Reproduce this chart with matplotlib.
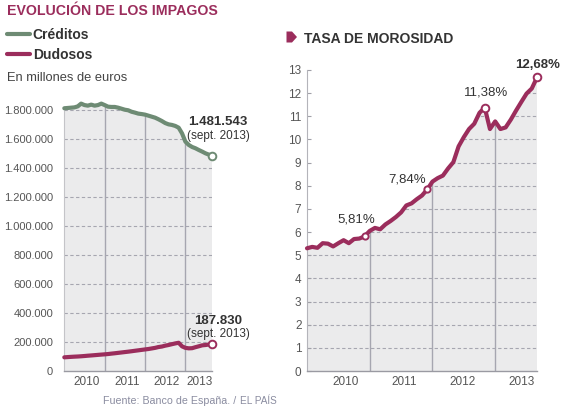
import matplotlib
matplotlib.use('Agg')
import matplotlib.pyplot as plt
from matplotlib.patches import Polygon
import numpy as np

# Datos mensuales, enero 2010 - septiembre 2013
creditos = [1812000, 1814000, 1816000, 1818000, 1825000, 1844000, 1834000, 1830000, 1837000, 1830000,
            1834000, 1844000, 1834000, 1823000, 1821000, 1821000, 1816000, 1809000, 1802000, 1798000,
            1788000, 1782000, 1775000, 1772000, 1768000, 1761000, 1754000, 1747000, 1736000, 1724000,
            1710000, 1701000, 1697000, 1690000, 1678000, 1639000, 1582000, 1559000, 1545000, 1536000,
            1524000, 1513000, 1501000, 1492000, 1481543]

dudosos = [94300, 95900, 97500, 98900, 100000, 101600, 103400, 105500, 107300, 109200,
           111200, 113100, 114900, 117000, 119800, 122300, 125100, 127800, 130600, 133300,
           136300, 139500, 142500, 145700, 148700, 151700, 155600, 159600, 165300, 168700,
           174700, 179300, 185000, 190300, 194700, 170100, 159700, 156300, 157400, 164300,
           170500, 177000, 179300, 182700, 187830]

morosidad = [5.30, 5.36, 5.32, 5.52, 5.50, 5.38, 5.52, 5.65, 5.52, 5.70,
             5.72, 5.81, 6.05, 6.18, 6.12, 6.33, 6.48, 6.65, 6.85, 7.15,
             7.24, 7.42, 7.58, 7.84, 8.18, 8.33, 8.44, 8.75, 9.02, 9.70,
             10.10, 10.45, 10.68, 11.15, 11.38, 10.45, 10.78, 10.45, 10.52, 10.86,
             11.25, 11.62, 11.98, 12.20, 12.68]

anios = ['2010', '2011', '2012', '2013']
ticks_izq = [0, 200000, 400000, 600000, 800000, 1000000, 1200000, 1400000, 1600000, 1800000]
etiq_izq = ['0', '200.000', '400.000', '600.000', '800.000', '1.000.000',
            '1.200.000', '1.400.000', '1.600.000', '1.800.000']
ticks_der = list(range(14))
etiq_der = [str(t) for t in ticks_der]

# puntos destacados en la tasa de morosidad (indice del mes, texto)
destacados = [(11, '5,81%'), (23, '7,84%'), (34, '11,38%'), (44, '12,68%')]

GRANATE = '#9b2d5c'
VERDE = '#6e8b74'
GRIS_ZONA = '#ebebec'
GRIS_LINEA = '#a6a6b0'
TEXTO = '#333333'

plt.rcParams['font.family'] = ['Liberation Sans', 'DejaVu Sans']

W, H = 566, 411


def px(x, y):
    return (x / W, 1 - y / H)


fig = plt.figure(figsize=(W / 100, H / 100), dpi=100)
fig.patch.set_facecolor('white')

x = np.arange(len(creditos))


def zona_gris(ax, y, ticks):
    # area bajo la curva, con la rejilla recortada a esa area
    verts = [(x[0], 0)] + list(zip(x, y)) + [(x[-1], 0)]
    zona = Polygon(verts, closed=True, facecolor=GRIS_ZONA, edgecolor='none', zorder=0)
    ax.add_patch(zona)
    for t in ticks[1:]:
        l = ax.axhline(t, color=GRIS_LINEA, lw=0.8, dashes=(3, 2.2), zorder=1)
        l.set_clip_path(zona)
    for v in [12, 24, 36]:
        l = ax.axvline(v, color=GRIS_LINEA, lw=1, zorder=1)
        l.set_clip_path(zona)


# ---------- Evolución de los impagos ----------
ax1 = fig.add_axes([64.3 / W, 40 / H, 148 / W, 275.5 / H])
zona_gris(ax1, creditos, ticks_izq)
l1, = ax1.plot(x, creditos, color=VERDE, lw=3, solid_capstyle='round', solid_joinstyle='round',
               zorder=3, clip_on=False, label='Créditos')
l2, = ax1.plot(x, dudosos, color=GRANATE, lw=3, solid_capstyle='round', solid_joinstyle='round',
               zorder=3, clip_on=False, label='Dudosos')
ax1.plot(x[-1], creditos[-1], 'o', mfc='white', mec=VERDE, ms=5.5, mew=1.4, zorder=4, clip_on=False)
ax1.plot(x[-1], dudosos[-1], 'o', mfc='white', mec=GRANATE, ms=5.5, mew=1.4, zorder=4, clip_on=False)

ax1.annotate('1.481.543', (x[-1], creditos[-1]), xytext=(4.3, 24.5), textcoords='offset points',
             ha='center', va='center', fontsize=9.5, fontweight='bold', color=TEXTO)
ax1.annotate('(sept. 2013)', (x[-1], creditos[-1]), xytext=(4.3, 14.8), textcoords='offset points',
             ha='center', va='center', fontsize=8.5, color=TEXTO)
ax1.annotate('187.830', (x[-1], dudosos[-1]), xytext=(4.3, 16.2), textcoords='offset points',
             ha='center', va='center', fontsize=9.5, fontweight='bold', color=TEXTO)
ax1.annotate('(sept. 2013)', (x[-1], dudosos[-1]), xytext=(4.3, 7), textcoords='offset points',
             ha='center', va='center', fontsize=8.5, color=TEXTO)

ax1.set_xlim(0, 44)
ax1.set_ylim(0, 1900000)
ax1.set_yticks(ticks_izq, etiq_izq)
ax1.set_xticks([6.75, 18.6, 30.4, 40.1], anios)
ax1.tick_params(axis='y', length=0, pad=8, labelsize=8, labelcolor='#555555')
ax1.tick_params(axis='x', length=0, pad=3.5, labelsize=8.5, labelcolor='#555555')
for s in ['top', 'right']:
    ax1.spines[s].set_visible(False)
ax1.spines['left'].set_color('#c4c4c8')
ax1.spines['left'].set_linewidth(0.8)
ax1.spines['left'].set_bounds(0, creditos[0])
ax1.spines['bottom'].set_color('#9a9aa2')
ax1.spines['bottom'].set_linewidth(1)
ax1.patch.set_alpha(0)

# ---------- Tasa de morosidad ----------
ax2 = fig.add_axes([307 / W, 40 / H, 230 / W, 301 / H])
zona_gris(ax2, morosidad, ticks_der)
ax2.plot(x, morosidad, color=GRANATE, lw=3, solid_capstyle='round', solid_joinstyle='round',
         zorder=3, clip_on=False)

desplaz = {11: (-5.8, 12.5), 23: (-14.4, 7), 34: (0.7, 10.5), 44: (0.7, 9)}
for i, txt in destacados:
    grande = i in (34, 44)
    ax2.plot(x[i], morosidad[i], 'o', mfc='white', mec=GRANATE, ms=5.5 if grande else 4.5,
             mew=1.4, zorder=4, clip_on=False)
    ax2.annotate(txt, (x[i], morosidad[i]), xytext=desplaz[i], textcoords='offset points',
                 ha='center', va='center', fontsize=9.5, color=TEXTO,
                 fontweight='bold' if i == 44 else 'normal')

ax2.set_xlim(0, 44)
ax2.set_ylim(0, 13)
ax2.set_yticks(ticks_der, etiq_der)
ax2.set_xticks([7.3, 18.5, 29.8, 41.1], anios)
ax2.tick_params(axis='y', direction='in', length=3, width=0.8, color='#a0a0a8', pad=4,
                labelsize=8.5, labelcolor='#555555')
ax2.tick_params(axis='x', length=0, pad=3.5, labelsize=8.5, labelcolor='#555555')
for s in ['top', 'right']:
    ax2.spines[s].set_visible(False)
ax2.spines['left'].set_color('#b4b4ba')
ax2.spines['left'].set_linewidth(0.8)
ax2.spines['bottom'].set_color('#9a9aa2')
ax2.spines['bottom'].set_linewidth(1)
ax2.patch.set_alpha(0)

# ---------- Textos ----------
fig.text(*px(7, 15), 'EVOLUCIÓN DE LOS IMPAGOS', fontsize=10.2, fontweight='bold',
         color=GRANATE, va='baseline')
fig.text(*px(7, 81), 'En millones de euros', fontsize=9.3, color='#444444', va='baseline')
fig.text(*px(304, 42.7), 'TASA DE MOROSIDAD', fontsize=10, fontweight='bold',
         color=TEXTO, va='baseline')
flecha = Polygon([px(286.5, 31.5), px(292, 31.5), px(297, 37), px(292, 42.5), px(286.5, 42.5)],
                 closed=True, transform=fig.transFigure, facecolor=GRANATE, edgecolor='none')
fig.add_artist(flecha)

fig.legend(handles=[l1, l2], loc='upper left', bbox_to_anchor=px(7, 28), frameon=False,
           borderpad=0, borderaxespad=0, handlelength=1.66, handletextpad=0.2,
           labelspacing=0.45, prop={'weight': 'bold', 'size': 10}, labelcolor=TEXTO)

fig.text(*px(103.3, 404.3), 'Fuente: Banco de España. /', fontsize=7.7, color='#8a8ca0',
         va='baseline')
fig.text(*px(240, 404.3), 'EL PAÍS', fontsize=7.2, color='#8a8ca0', va='baseline')

fig.savefig('out.png', dpi=100)
